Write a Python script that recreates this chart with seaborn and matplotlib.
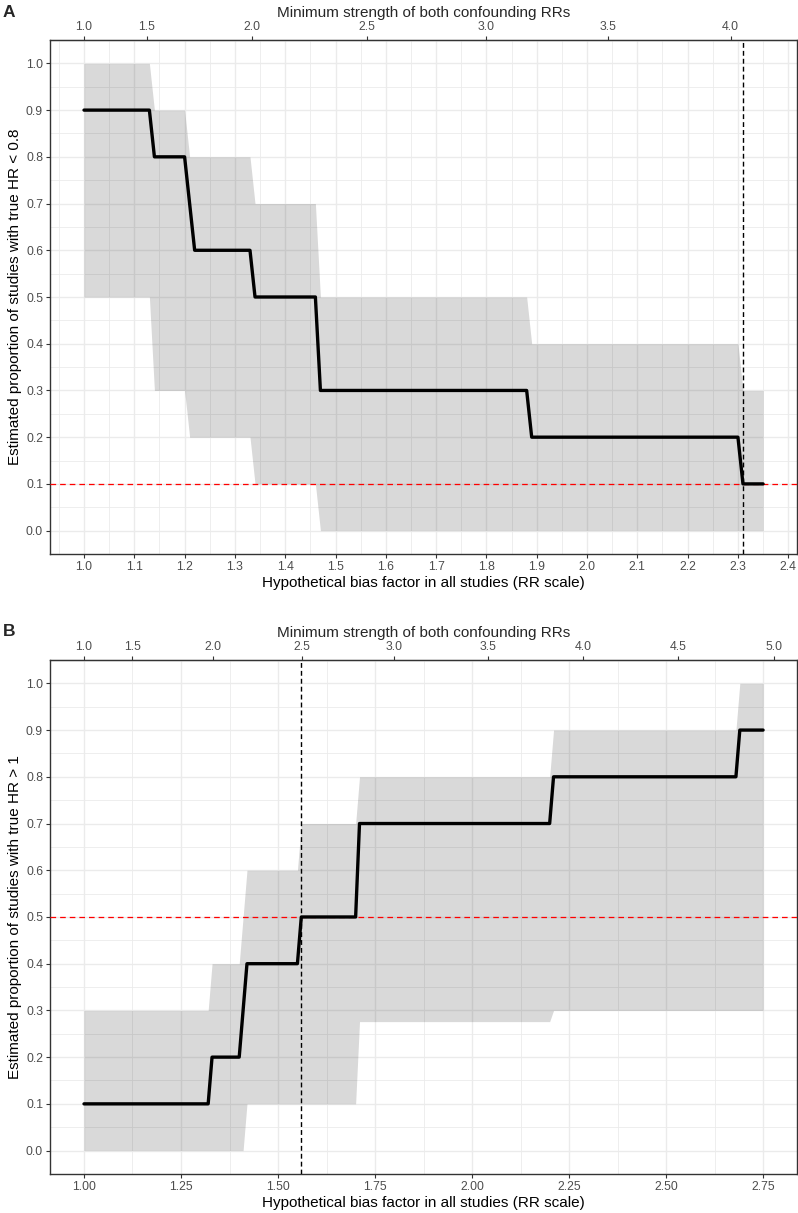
import numpy as np
import pandas as pd
import matplotlib
matplotlib.use("Agg")
import matplotlib.pyplot as plt
import seaborn as sns
from matplotlib.ticker import MultipleLocator, FixedLocator

# =====================
# Data
# =====================
# Panel A: proportion with true HR < 0.8
bias_a = [1.00, 1.13, 1.14, 1.20, 1.21, 1.22, 1.33, 1.34, 1.46, 1.47, 1.88, 1.89, 2.30, 2.31, 2.35]
est_a = [0.9, 0.9, 0.8, 0.8, 0.7, 0.6, 0.6, 0.5, 0.5, 0.3, 0.3, 0.2, 0.2, 0.1, 0.1]
hi_a = [1.0, 1.0, 0.9, 0.9, 0.8, 0.8, 0.8, 0.7, 0.7, 0.5, 0.5, 0.4, 0.4, 0.3, 0.3]
lo_a = [0.5, 0.5, 0.3, 0.3, 0.2, 0.2, 0.2, 0.1, 0.1, 0.0, 0.0, 0.0, 0.0, 0.0, 0.0]
thresh_a = 0.1
vline_a = 2.31
top_ticks_a = [1.0, 1.5, 2.0, 2.5, 3.0, 3.5, 4.0]

# Panel B: proportion with true HR > 1
bias_b = [1.00, 1.32, 1.33, 1.40, 1.41, 1.42, 1.55, 1.56, 1.70, 1.71, 2.20, 2.21, 2.68, 2.69, 2.75]
est_b = [0.1, 0.1, 0.2, 0.2, 0.3, 0.4, 0.4, 0.5, 0.5, 0.7, 0.7, 0.8, 0.8, 0.9, 0.9]
hi_b = [0.3, 0.3, 0.4, 0.4, 0.5, 0.6, 0.6, 0.7, 0.7, 0.8, 0.8, 0.9, 0.9, 1.0, 1.0]
lo_b = [0.0, 0.0, 0.0, 0.0, 0.0, 0.1, 0.1, 0.1, 0.1, 0.276, 0.276, 0.3, 0.3, 0.3, 0.3]
thresh_b = 0.5
vline_b = 1.56
top_ticks_b = [1.0, 1.5, 2.0, 2.5, 3.0, 3.5, 4.0, 4.5, 5.0]

sns.set_style("whitegrid")
plt.rcParams['font.family'] = ['Liberation Sans', 'DejaVu Sans']


def to_evalue(b):
    b = np.asarray(b, dtype=float)
    return b + np.sqrt(np.clip(b * (b - 1), 0, None))


def from_evalue(e):
    e = np.asarray(e, dtype=float)
    with np.errstate(divide='ignore', invalid='ignore'):
        out = np.where(e > 1, e ** 2 / (2 * e - 1), e)
    return out


def draw_panel(ax, bias, est, hi, lo, thresh, vline, major_x, top_ticks, ylab, letter):
    df = pd.DataFrame({'bias': bias, 'est': est})
    ax.fill_between(bias, lo, hi, color='black', alpha=0.15, lw=0, zorder=2)
    ax.axhline(thresh, color='red', ls=(0, (4.5, 3.2)), lw=0.9, zorder=3)
    sns.lineplot(data=df, x='bias', y='est', color='black', lw=2.4, ax=ax, zorder=4,
                 estimator=None, sort=False)
    ax.axvline(vline, color='black', ls=(0, (3.5, 2.2)), lw=1.0, zorder=5)

    rng = bias[-1] - bias[0]
    ax.set_xlim(bias[0] - 0.05 * rng, bias[-1] + 0.05 * rng)
    ax.set_ylim(-0.05, 1.05)
    ax.xaxis.set_major_locator(MultipleLocator(major_x))
    ax.xaxis.set_minor_locator(MultipleLocator(major_x / 2))
    ax.yaxis.set_major_locator(MultipleLocator(0.1))
    ax.yaxis.set_minor_locator(MultipleLocator(0.05))
    ax.set_yticklabels([f'{v:.1f}' for v in ax.get_yticks()])
    if major_x < 0.2:
        ax.set_xticklabels([f'{v:.1f}' for v in ax.get_xticks()])
    else:
        ax.set_xticklabels([f'{v:.2f}' for v in ax.get_xticks()])
    ax.grid(which='major', color='#EBEBEB', lw=1.0)
    ax.grid(which='minor', color='#EBEBEB', lw=0.6)
    ax.set_axisbelow(True)
    ax.tick_params(which='major', length=3, width=0.8, color='#333333',
                   labelcolor='#4D4D4D', labelsize=8.8, bottom=True, left=True, pad=2)
    ax.tick_params(which='minor', length=0)
    for s in ax.spines.values():
        s.set_color('#333333')
        s.set_linewidth(1.0)

    ax.set_xlabel('Hypothetical bias factor in all studies (RR scale)', fontsize=11,
                  color='black', labelpad=2)
    ax.set_ylabel(ylab, fontsize=11, color='black', labelpad=3)

    sec = ax.secondary_xaxis('top', functions=(to_evalue, from_evalue))
    sec.xaxis.set_major_locator(FixedLocator(top_ticks))
    sec.set_xticklabels([f'{v:.1f}' for v in top_ticks])
    sec.tick_params(length=3, width=0.8, color='#333333', labelcolor='#4D4D4D',
                    labelsize=8.8, pad=2)
    sec.spines['top'].set_color('#333333')
    sec.set_xlabel('Minimum strength of both confounding RRs', fontsize=11, labelpad=3)

    ax.text(-0.063, 1.0545, letter, transform=ax.transAxes, fontsize=12.5,
            fontweight='bold', ha='left', va='center')


fig = plt.figure(figsize=(7.98, 12.13), dpi=100)
ax_a = fig.add_axes([0.0627, 0.5433, 0.9361, 0.4237])
ax_b = fig.add_axes([0.0627, 0.0322, 0.9361, 0.4237])

draw_panel(ax_a, bias_a, est_a, hi_a, lo_a, thresh_a, vline_a, 0.1, top_ticks_a,
           'Estimated proportion of studies with true HR < 0.8', 'A')
draw_panel(ax_b, bias_b, est_b, hi_b, lo_b, thresh_b, vline_b, 0.25, top_ticks_b,
           'Estimated proportion of studies with true HR > 1', 'B')

fig.savefig('out.png', dpi=100)
